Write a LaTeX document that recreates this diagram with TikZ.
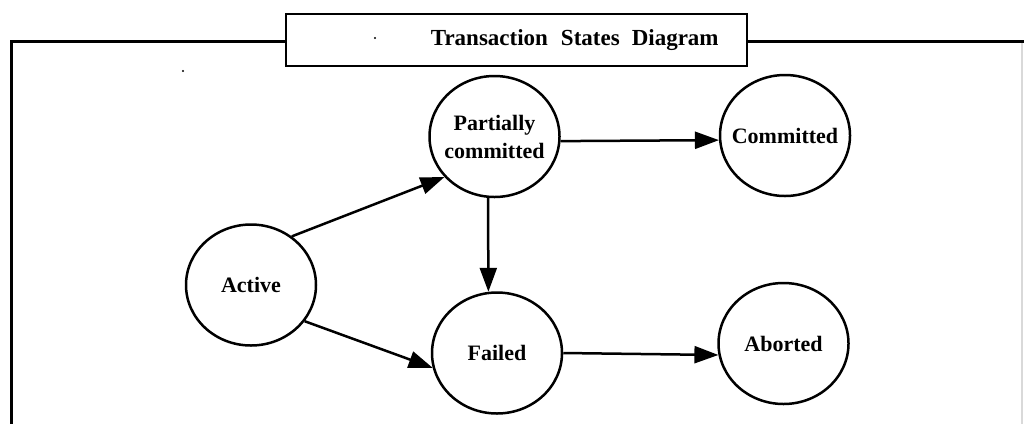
\documentclass[tikz,border=0pt]{standalone}
\usepackage{fontspec}
\setmainfont{Liberation Serif}
\usetikzlibrary{arrows.meta,shapes.geometric}
\begin{document}
\begin{tikzpicture}[x=1pt,y=-1pt,line width=2.5pt,
    -{Triangle[length=24pt,width=17pt]},shorten >=0pt]
    \tikzstyle{state}=[ellipse,draw,minimum width=130pt,minimum height=121pt,inner sep=-8pt,
      font=\fontsize{22}{28}\selectfont\bfseries,align=center,-]
    \tikzstyle{frame}=[-,line width=2.5pt]

    \useasboundingbox (0,0) rectangle (1024,424);

    % outer frame and title
    \node[draw,frame,minimum width=461pt,minimum height=52pt,inner sep=0pt,
      font=\fontsize{23}{26}\selectfont\bfseries] (T) at (516.5,40)
      {\hspace*{116.5pt}Transaction\hspace{13pt}States\hspace{12pt}Diagram};
    \draw[frame] (T.west |- 0,41.5) -- (11.5,41.5) -- (11.5,424);
    \draw[frame] (T.east |- 0,41.5) -- (1026,41.5);
    \draw[-,line width=1.5pt,black!15] (1022,43) -- (1022,424);
    \fill (375,38) circle (1.2pt);
    \fill (183,71) circle (1.2pt);

    \node[state] (Active) at (251,285) {Active};
    \node[state] (Partial) at (494.5,136.5) {Partially\\committed};
    \node[state] (Committed) at (785,135.5) {Committed};
    \node[state] (Failed) at (497,353) {Failed};
    \node[state] (Aborted) at (783.5,343.5) {Aborted};

    \draw (Active.50) -- (Partial.219);
    \draw (Active.-34) -- (Failed.193);
    \draw (Partial.264) -- (Failed.98.5);
    \draw (Partial.-4) -- (Committed.184);
    \draw (Failed.east) -- (Aborted.190);
  \end{tikzpicture}
\end{document}
